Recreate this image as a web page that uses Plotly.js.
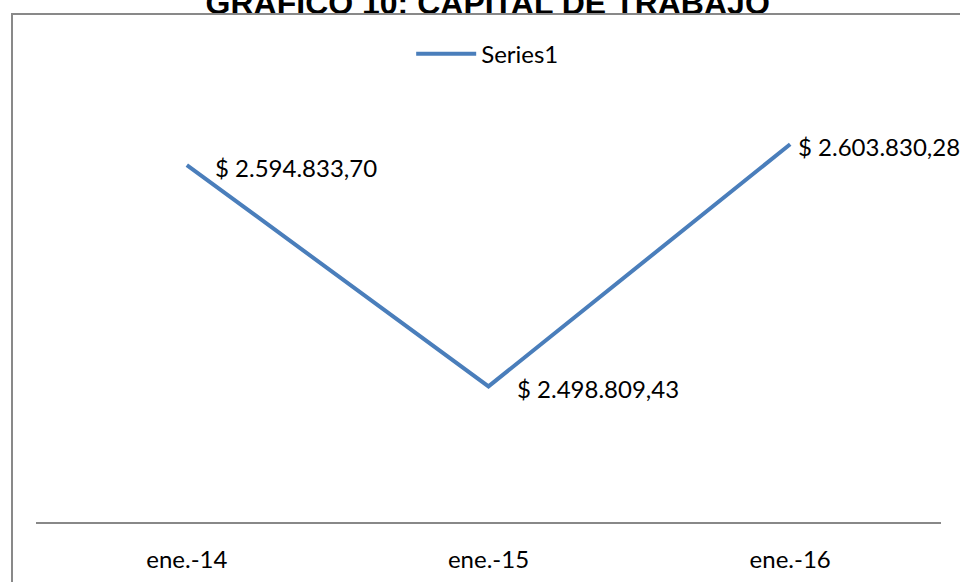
<!DOCTYPE html>
<html>
<head>
<meta charset="utf-8">
<script src="https://cdn.plot.ly/plotly-3.0.1.min.js"></script>
<style>
  html, body { margin: 0; padding: 0; background: #ffffff; overflow: hidden; }
  #chart { width: 960px; height: 582px; }
  #frame {
    position: absolute; left: 11px; top: 13px;
    width: 1200px; height: 800px;
    border: 2px solid #898989; pointer-events: none;
  }
</style>
</head>
<body>
<div id="chart"></div>
<div id="frame"></div>
<script>
// Working capital by year
const periods = ['ene.-14', 'ene.-15', 'ene.-16'];
const capital = [2594833.70, 2498809.43, 2603830.28];
const seriesName = 'Series1';
const chartTitle = 'GRAFICO 10: CAPITAL DE TRABAJO';

// "$ 2.594.833,70" style currency
function peso(v) {
  const parts = v.toFixed(2).split('.');
  const whole = parts[0].replace(/\B(?=(\d{3})+(?!\d))/g, '.');
  return '$ ' + whole + ',' + parts[1];
}

const lineColor = '#4a7ebb';
const labelFont = { family: 'Lato, Carlito, sans-serif', size: 24, color: '#000000' };
// horizontal gap between each point and its value label
const labelGap = [26, 26, 6];

const trace = {
  type: 'scatter',
  mode: 'lines',
  x: periods,
  y: capital,
  name: seriesName,
  line: { color: lineColor, width: 4 },
  hoverinfo: 'skip'
};

const annotations = periods.map((p, i) => ({
  x: p, y: capital[i], xref: 'x', yref: 'y',
  text: peso(capital[i]),
  showarrow: false,
  xanchor: 'left', yanchor: 'middle',
  xshift: labelGap[i], yshift: -2,
  font: labelFont
}));

const layout = {
  width: 960, height: 582,
  margin: { l: 36, r: 19, t: 107, b: 60, autoexpand: false },
  paper_bgcolor: '#ffffff',
  plot_bgcolor: '#ffffff',
  title: {
    text: '<b>' + chartTitle + '</b>',
    font: { family: 'Liberation Sans, Arial, sans-serif', size: 32, color: '#000000' },
    xref: 'container', yref: 'container',
    x: 0.508, xanchor: 'center',
    y: 0.9945, yanchor: 'middle'
  },
  showlegend: true,
  legend: {
    orientation: 'h',
    xref: 'container', yref: 'container',
    x: 0.508, xanchor: 'center',
    y: 0.907, yanchor: 'middle',
    font: labelFont,
    itemwidth: 60,
    bgcolor: 'rgba(0,0,0,0)'
  },
  xaxis: {
    type: 'category',
    range: [-0.5, 2.5],
    showgrid: false,
    zeroline: false,
    showline: true,
    linecolor: '#888888',
    linewidth: 1.5,
    ticks: '',
    ticklabelstandoff: 16,
    tickfont: labelFont,
    fixedrange: true
  },
  yaxis: {
    range: [2440000, 2620000],
    showgrid: false,
    zeroline: false,
    showline: false,
    showticklabels: false,
    ticks: '',
    fixedrange: true
  },
  annotations: annotations
};

Plotly.newPlot('chart', [trace], layout, { staticPlot: true, displayModeBar: false });
</script>
</body>
</html>
